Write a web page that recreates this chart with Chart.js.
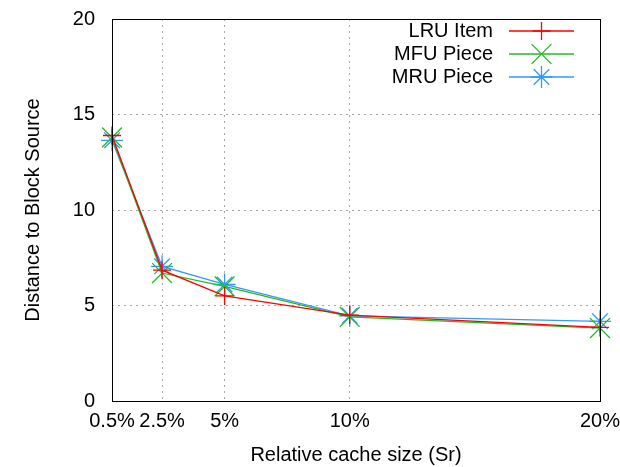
<!DOCTYPE html>
<html>
<head>
<meta charset="utf-8">
<script src="https://cdn.jsdelivr.net/npm/chart.js@4/dist/chart.umd.min.js"></script>
<style>
html,body{margin:0;padding:0;background:#fff}
canvas{display:block}
</style>
</head>
<body>
<canvas id="c" width="620" height="467"></canvas>
<script>

/* ===== DATA ===== */

const cacheSizes = [0.5, 2.5, 5, 10, 20]
const xTicks = [0.5, 2.5, 5, 10, 20]
const yTicks = [0, 5, 10, 15, 20]

const lruItem = [13.9, 6.85, 5.5, 4.5, 3.85]
const mfuPiece = [13.8, 6.7, 6.0, 4.4, 3.82]
const mruPiece = [13.65, 7.05, 6.1, 4.46, 4.17]

const seriesNames = ["LRU Item", "MFU Piece", "MRU Piece"]

/* ===== STYLE ===== */

const FONT = "'Liberation Sans', Arial, sans-serif"
Chart.defaults.font.family = FONT
Chart.defaults.font.size = 20
Chart.defaults.color = "#000"

const colors = ["#ff0000", "#22bb22", "#3399ff"]
const markers = ["cross", "crossRot", "star"]
const radii = [9, 14, 11]

const toPoints = arr => arr.map((v, i) => ({x: cacheSizes[i], y: v}))

/* ===== MARKER ===== */

function marker(ctx, style, x, y, r){
  ctx.beginPath()
  if (style === "cross" || style === "star"){
    ctx.moveTo(x - r, y); ctx.lineTo(x + r, y)
    ctx.moveTo(x, y - r); ctx.lineTo(x, y + r)
  }
  if (style === "crossRot" || style === "star"){
    const d = r * 0.7071
    ctx.moveTo(x - d, y - d); ctx.lineTo(x + d, y + d)
    ctx.moveTo(x - d, y + d); ctx.lineTo(x + d, y - d)
  }
  ctx.stroke()
}

/* ===== FRAME + LEGEND ===== */

const framePlugin = {
  id: "frame",
  afterDatasetsDraw(chart){
    const {ctx, chartArea: {left, right, top, bottom}} = chart
    ctx.save()
    ctx.strokeStyle = "#000"
    ctx.lineWidth = 1
    ctx.strokeRect(Math.round(left) + 0.5, Math.round(top) + 0.5,
      Math.round(right - left), Math.round(bottom - top))
    ctx.restore()
  }
}

const legendPlugin = {
  id: "gnuLegend",
  afterDraw(chart){
    const {ctx} = chart
    ctx.save()
    ctx.font = "20px " + FONT
    ctx.textAlign = "right"
    ctx.textBaseline = "middle"
    chart.data.datasets.forEach((ds, i) => {
      const y = 31 + i * 23
      ctx.fillStyle = "#000"
      ctx.fillText(ds.label, 493, y)
      ctx.strokeStyle = ds.borderColor
      ctx.lineWidth = 1.3
      ctx.beginPath()
      ctx.moveTo(509, y); ctx.lineTo(574, y)
      ctx.stroke()
      marker(ctx, ds.pointStyle, 541.5, y, ds.pointRadius)
    })
    ctx.restore()
  }
}

/* ===== CHART ===== */

const gridColor = ends => c => ends.includes(c.tick && c.tick.value) ? "rgba(0,0,0,0)" : "#a8a8a8"

new Chart(document.getElementById("c"), {
  type: "line",
  data: {
    datasets: [lruItem, mfuPiece, mruPiece].map((arr, i) => ({
      label: seriesNames[i],
      data: toPoints(arr),
      borderColor: colors[i],
      backgroundColor: colors[i],
      borderWidth: 1.3,
      pointStyle: markers[i],
      pointRadius: radii[i],
      pointHoverRadius: radii[i],
      pointBorderWidth: 1.3,
      tension: 0,
      fill: false,
      clip: false
    }))
  },
  options: {
    responsive: false,
    animation: false,
    layout: {padding: {top: 19, right: 20, left: 0, bottom: 0}},
    plugins: {
      legend: {display: false},
      tooltip: {enabled: false}
    },
    scales: {
      x: {
        type: "linear",
        min: 0.5,
        max: 20,
        afterBuildTicks: s => { s.ticks = xTicks.map(v => ({value: v})) },
        afterFit: s => { s.height = 66; s.paddingLeft = 0; s.paddingRight = 0 },
        ticks: {
          autoSkip: false,
          maxRotation: 0,
          padding: 8,
          callback: v => v + "%"
        },
        grid: {color: gridColor([0.5, 20]), drawTicks: false, lineWidth: 1},
        border: {display: false, dash: [2, 4]},
        title: {
          display: true,
          text: "Relative cache size (Sr)",
          padding: {top: 0, bottom: 0}
        }
      },
      y: {
        min: 0,
        max: 20,
        afterBuildTicks: s => { s.ticks = yTicks.map(v => ({value: v})) },
        afterFit: s => { s.width = 112; s.paddingTop = 0; s.paddingBottom = 0 },
        ticks: {padding: 17},
        grid: {color: gridColor([0, 20]), drawTicks: false, lineWidth: 1},
        border: {display: false, dash: [2, 4]},
        title: {
          display: true,
          text: "Distance to Block Source",
          padding: {top: 21, bottom: 0}
        }
      }
    }
  },
  plugins: [framePlugin, legendPlugin]
})

</script>
</body>
</html>
